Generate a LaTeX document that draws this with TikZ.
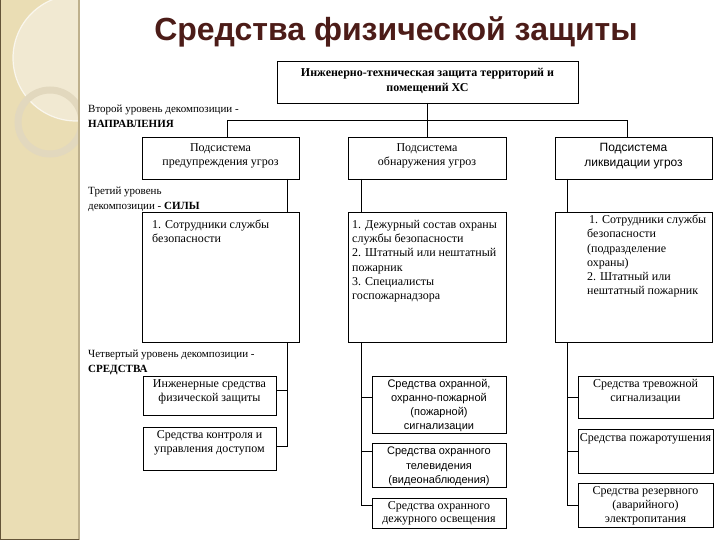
\documentclass[tikz,border=0pt]{standalone}
\usepackage{fontspec}
\setmainfont{Liberation Serif}
\newfontfamily\sansf{Liberation Sans}
\usetikzlibrary{calc}
\definecolor{titlec}{RGB}{76,28,24}
\definecolor{stripc}{RGB}{234,221,180}
\definecolor{stripl}{RGB}{241,233,210}
\definecolor{ringc}{RGB}{226,216,190}
\definecolor{stripb}{RGB}{190,176,140}
\definecolor{stripd}{RGB}{100,84,56}
\newcommand\mybox[5]{\node[bx, minimum width=#4pt, minimum height=#5pt] (#1) at (#2,#3) {};}
\begin{document}
\begin{tikzpicture}[x=1pt,y=-1pt,
  bx/.style={draw=black, line width=0.9pt, inner sep=0pt, outer sep=0pt, anchor=north west},
  ln/.style={draw=black, line width=0.9pt},
  st/.style={font=\fontsize{12}{14}\selectfont, inner sep=0pt, align=center},
  sl/.style={font=\fontsize{12}{14.2}\selectfont, inner sep=0pt, align=left, anchor=north west},
  ss/.style={font=\sansf\fontsize{12}{14.5}\selectfont, inner sep=0pt, align=center},
  se/.style={font=\sansf\fontsize{11}{14.2}\selectfont, inner sep=0pt, align=center},
  lbl/.style={font=\fontsize{11}{14.5}\selectfont, inner sep=0pt, align=left, anchor=north west}]
\useasboundingbox (0,0) rectangle (720,540);
\fill[white] (0,0) rectangle (720,540);
% decorative strip
\fill[stripc] (0,0) rectangle (78,540);
\begin{scope}
  \clip (0,0) rectangle (78,540);
  \fill[stripl] (76,58) circle (63);
  \draw[white, opacity=0.7, line width=1.2pt] (76,58) circle (63);
  \draw[ringc, line width=7pt] (50,122) circle (32);
\end{scope}
\draw[stripb, line width=1.6pt] (79,0) -- (79,540);
\draw[stripd, line width=1.2pt] (0.6,0) -- (0.6,540);
\draw[stripd, line width=1.2pt] (0,539.4) -- (79,539.4);

% title
\node[font=\sansf\bfseries\fontsize{32}{36}\selectfont, text=titlec, anchor=base, inner sep=0pt] (title) at (396,41) {Средства физической защиты};

% boxes
\mybox{T}{277}{61}{301}{42}
\mybox{b1}{142}{137}{157}{42}
\mybox{b2}{348}{137}{158}{42}
\mybox{b3}{555}{137}{157}{42}
\mybox{bA}{142}{212}{157}{130}
\mybox{bB}{348}{212}{158}{130}
\mybox{bC}{555}{212}{157}{130}
\mybox{D1}{143}{376}{133}{39}
\mybox{D2}{143}{427}{133}{43}
\mybox{E1}{372}{376}{134}{57}
\mybox{E2}{372}{443}{134}{44}
\mybox{E3}{372}{498}{134}{30}
\mybox{F1}{578}{376}{135}{42}
\mybox{F2}{578}{429}{135}{44}
\mybox{F3}{578}{483}{135}{44}

% helper coordinates
\coordinate (xL) at (227,0);
\coordinate (xR) at (627,0);
\coordinate (ybus) at (0,120);
\coordinate (xA) at (287,0);
\coordinate (xB) at (361,0);
\coordinate (xC) at (567,0);
\coordinate (yD1) at (0,390);
\coordinate (yD2) at (0,446);
\coordinate (yE1) at (0,397);
\coordinate (yE2) at (0,451);
\coordinate (yE3) at (0,505);
\coordinate (yF1) at (0,397);
\coordinate (yF2) at (0,451);
\coordinate (yF3) at (0,505);

% connectors
\draw[ln] (T.south) -- (b2.north -| T.south);
\draw[ln] (b1.north -| xL) -- (xL |- ybus) -- (xR |- ybus) -- (b3.north -| xR);
\draw[ln] (b1.south -| xA) -- (bA.north -| xA);
\draw[ln] (b2.south -| xB) -- (bB.north -| xB);
\draw[ln] (b3.south -| xC) -- (bC.north -| xC);
\draw[ln] (bA.south -| xA) |- (D2.east |- yD2);
\draw[ln] (xA |- yD1) -- (D1.east |- yD1);
\draw[ln] (bB.south -| xB) |- (E3.west |- yE3);
\draw[ln] (xB |- yE1) -- (E1.west |- yE1);
\draw[ln] (xB |- yE2) -- (E2.west |- yE2);
\draw[ln] (bC.south -| xC) |- (F3.west |- yF3);
\draw[ln] (xC |- yF1) -- (F1.west |- yF1);
\draw[ln] (xC |- yF2) -- (F2.west |- yF2);

% level labels
\node[lbl] (l2) at (88,105) {Второй уровень декомпозиции -\\\textbf{НАПРАВЛЕНИЯ}};
\node[lbl] (l3) at (88,187) {Третий уровень\\декомпозиции - \textbf{СИЛЫ}};
\node[lbl] (l4) at (88,350) {Четвертый уровень декомпозиции -\\\textbf{СРЕДСТВА}};

% box texts
\node[font=\bfseries\fontsize{12}{15}\selectfont, inner sep=0pt, align=center] (tT) at ($(T.center)+(0,-1.5)$) {Инженерно-техническая защита территорий и\\помещений ХС};
\node[st] (t1) at ($(b1.center)+(0,-2)$) {Подсистема\\предупреждения угроз};
\node[st] (t2) at ($(b2.center)+(0,-2)$) {Подсистема\\обнаружения угроз};
\node[ss] (t3) at ($(b3.center)+(0,-2)$) {Подсистема\\ликвидации угроз};
\node[sl] (tA) at ($(bA.north west)+(10,8)$) {1. Сотрудники службы\\безопасности};
\node[sl] (tB) at ($(bB.north west)+(4,8)$) {1. Дежурный состав охраны\\службы безопасности\\2. Штатный или нештатный\\пожарник\\3. Специалисты\\госпожарнадзора};
\node[sl] (tC) at ($(bC.north west)+(32,3)$) {\hspace*{2pt}1. Сотрудники службы\\безопасности\\(подразделение\\охраны)\\2. Штатный или\\нештатный пожарник};
\node[st] (tD1) at ($(D1.center)+(0,-4)$) {Инженерные средства\\физической защиты};
\node[st, anchor=north] (tD2) at ($(D2.north)+(0,3)$) {Средства контроля и\\управления доступом};
\node[se, anchor=north] (tE1) at ($(E1.north)+(0,3)$) {Средства охранной,\\охранно-пожарной\\(пожарной)\\сигнализации};
\node[se, anchor=north] (tE2) at ($(E2.north)+(0,4)$) {Средства охранного\\телевидения\\(видеонаблюдения)};
\node[st, anchor=north, font=\fontsize{12}{13}\selectfont] (tE3) at ($(E3.north)+(0,3)$) {Средства охранного\\дежурного освещения};
\node[st, anchor=north] (tF1) at ($(F1.north)+(0,3)$) {Средства тревожной\\сигнализации};
\node[st, anchor=north] (tF2) at ($(F2.north)+(0,4)$) {Средства пожаротушения};
\node[st, anchor=north] (tF3) at ($(F3.north)+(0,3)$) {Средства резервного\\(аварийного)\\электропитания};
\end{tikzpicture}
\end{document}
